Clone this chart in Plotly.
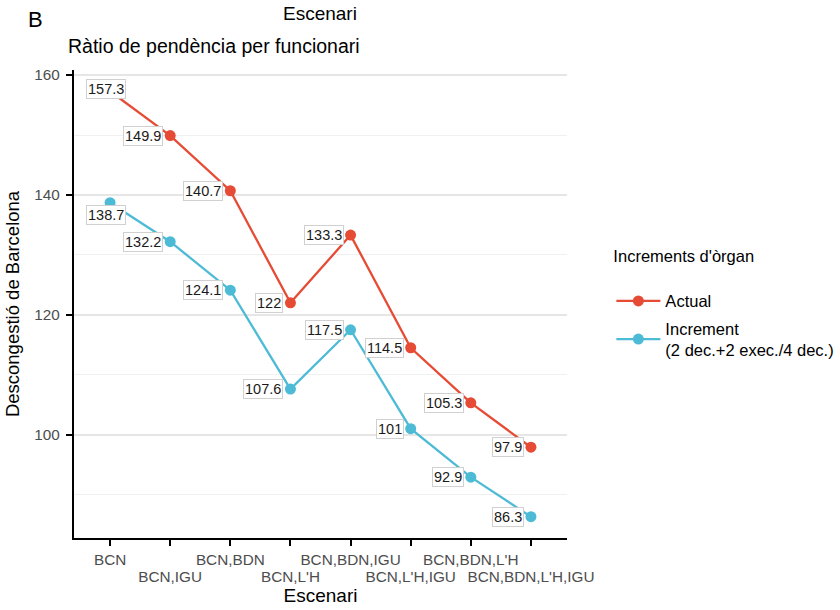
import plotly.graph_objects as go

scenarios = ["BCN", "BCN,IGU", "BCN,BDN", "BCN,L'H", "BCN,BDN,IGU",
             "BCN,L'H,IGU", "BCN,BDN,L'H", "BCN,BDN,L'H,IGU"]
actual = [157.3, 149.9, 140.7, 122, 133.3, 114.5, 105.3, 97.9]
increment = [138.7, 132.2, 124.1, 107.6, 117.5, 101, 92.9, 86.3]
series_names = ["Actual", "Increment<br>(2 dec.+2 exec./4 dec.)"]
y_ticks = [100, 120, 140, 160]

FONT = "Liberation Sans, Arial, Helvetica, sans-serif"
RED = "#E64B35"
BLUE = "#4DBBD5"

idx = list(range(len(scenarios)))

fig = go.Figure()
for k, (name, vals, col) in enumerate([(series_names[0], actual, RED),
                                       (series_names[1], increment, BLUE)]):
    fig.add_trace(go.Scatter(
        x=idx, y=vals, mode="lines+markers", name=name, legendgroup=f"g{k}",
        line=dict(color=col, width=2.3),
        marker=dict(color=col, size=11),
    ))

# invisible trace on the second x axis (for the dodged tick labels)
fig.add_trace(go.Scatter(x=idx, y=actual, xaxis="x2", mode="markers",
                         marker=dict(opacity=0), showlegend=False, hoverinfo="skip"))

# value labels
def add_labels(vals, first_yshift):
    for i, v in zip(idx, vals):
        common = dict(x=i, y=v, xref="x", yref="y", text=f"{v:g}", showarrow=False,
                      font=dict(family=FONT, size=14.5, color="#1a1a1a"),
                      bgcolor="white", bordercolor="#d0d0d0", borderwidth=1, borderpad=1)
        if i == 0:
            fig.add_annotation(**common, xanchor="center", yanchor="middle",
                               xshift=-4, yshift=first_yshift)
        else:
            fig.add_annotation(**common, xanchor="right", yanchor="middle", xshift=-7)

add_labels(actual, 2)
add_labels(increment, -12)

even_text = [s if i % 2 == 0 else "" for i, s in enumerate(scenarios)]
odd_vals = [i for i in idx if i % 2 == 1]
odd_text = [scenarios[i] for i in odd_vals]

TICKFONT = dict(family=FONT, size=15.3, color="#4d4d4d")

fig.update_layout(
    width=840, height=610,
    margin=dict(l=74, r=273, t=70, b=72, autoexpand=False),
    paper_bgcolor="white", plot_bgcolor="white",
    font=dict(family=FONT, color="black"),
    xaxis=dict(range=[-0.6, 7.6], tickvals=idx, ticktext=even_text,
               showgrid=False, zeroline=False, automargin=False,
               showline=True, linecolor="black", linewidth=2.4,
               ticks="outside", ticklen=6, tickwidth=2, tickcolor="black",
               tickfont=TICKFONT),
    xaxis2=dict(range=[-0.6, 7.6], overlaying="x", side="bottom", anchor="y",
                tickvals=odd_vals, ticktext=odd_text, showgrid=False, zeroline=False,
                showline=False, ticks="", ticklabelstandoff=28, automargin=False,
                tickfont=TICKFONT,
                title=dict(text="Escenari", font=dict(family=FONT, size=19, color="black"),
                           standoff=2)),
    yaxis=dict(range=[82.75, 160.85], tickvals=y_ticks, zeroline=False,
               showgrid=True, gridcolor="#e6e6e6", gridwidth=1.6, automargin=False,
               minor=dict(dtick=10, tick0=0, showgrid=True, gridcolor="#f0f0f0",
                          gridwidth=1, ticks=""),
               showline=True, linecolor="black", linewidth=2.4,
               ticks="outside", ticklen=6, tickwidth=2, tickcolor="black",
               ticklabelstandoff=3,
               tickfont=TICKFONT,
               title=dict(text="Descongestió de Barcelona",
                          font=dict(family=FONT, size=18.5, color="black"), standoff=10)),
    legend=dict(x=1.09, y=0.635, xanchor="left", yanchor="top", itemwidth=44,
                title=dict(text="Increments d'òrgan<br>", font=dict(family=FONT, size=16.5)),
                font=dict(family=FONT, size=16.5), traceorder="grouped", tracegroupgap=3,
                bgcolor="rgba(0,0,0,0)"),
    showlegend=True,
)

fig.add_annotation(text="B", xref="paper", yref="paper", x=-0.079, y=1.107,
                   xanchor="center", yanchor="middle", showarrow=False,
                   font=dict(family=FONT, size=22, color="black"))
fig.add_annotation(text="Escenari", xref="paper", yref="paper", x=0.499, y=1.1197,
                   xanchor="center", yanchor="middle", showarrow=False,
                   font=dict(family=FONT, size=19, color="black"))
fig.add_annotation(text="Ràtio de pendència per funcionari", xref="paper", yref="paper",
                   x=-0.016, y=1.051, xanchor="left", yanchor="middle", showarrow=False,
                   font=dict(family=FONT, size=19.5, color="black"))

fig.write_html("out.html", post_script="document.body.style.margin='0px';",
               config={"displayModeBar": False})
